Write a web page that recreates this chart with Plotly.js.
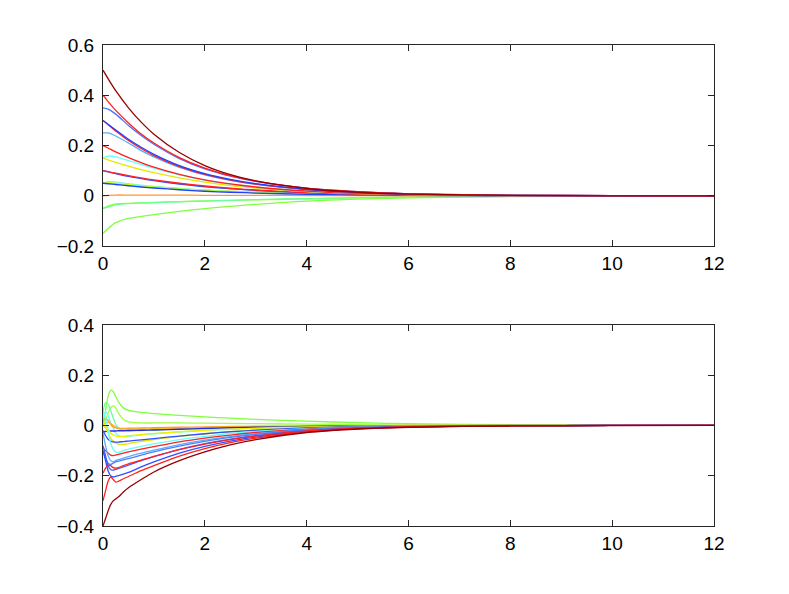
<!DOCTYPE html>
<html>
<head>
<meta charset="utf-8">
<script src="https://cdn.plot.ly/plotly-3.0.1.min.js"></script>
<style>html,body{margin:0;padding:0;background:#fff;}#chart{width:789px;height:594px;}</style>
</head>
<body>
<div id="chart"></div>
<script>
// ---- Top subplot data ----
var topX = [0, 0.1, 0.25, 0.5, 0.75, 1, 1.5, 2, 2.5, 3, 4, 5, 6, 8, 10, 12];
var topGreenLow   = [-0.15,-0.13,-0.107,-0.09,-0.082,-0.075,-0.062,-0.051,-0.042,-0.034,-0.021,-0.013,-0.008,-0.003,-0.001,0];
var topGreenMid   = [-0.05,-0.04,-0.032,-0.03,-0.028,-0.026,-0.023,-0.02,-0.018,-0.016,-0.012,-0.008,-0.005,-0.002,-0.001,0];
var topGreenCyan  = [-0.05,-0.045,-0.036,-0.031,-0.029,-0.027,-0.024,-0.021,-0.018,-0.015,-0.011,-0.007,-0.005,-0.002,-0.001,0];
var topOrange     = [0,0.002,0.003,0.003,0.003,0.003,0.003,0.002,0.002,0.002,0.001,0.001,0,0,0,0];
var topYellowLow  = [0.05,0.05,0.048,0.044,0.04,0.036,0.029,0.023,0.018,0.014,0.008,0.004,0.002,0.001,0,0];
var topCyanLow    = [0.05,0.056,0.055,0.048,0.042,0.037,0.029,0.022,0.017,0.013,0.007,0.004,0.002,0,0,0];
var topLimeLow    = [0.05,0.052,0.05,0.045,0.04,0.035,0.027,0.021,0.016,0.012,0.007,0.004,0.002,0,0,0];
var topBlueLow    = [0.05,0.048,0.045,0.04,0.035,0.031,0.024,0.018,0.014,0.011,0.006,0.003,0.002,0,0,0];
var topBlue010    = [0.1,0.095,0.088,0.077,0.068,0.06,0.047,0.036,0.028,0.021,0.012,0.007,0.003,0.001,0,0];
var topRed010     = [0.1,0.096,0.09,0.08,0.071,0.063,0.05,0.039,0.03,0.023,0.013,0.007,0.004,0.001,0,0];
var topYellow015  = [0.15,0.143,0.133,0.118,0.104,0.092,0.071,0.054,0.041,0.031,0.017,0.009,0.005,0.001,0,0];
var topCyan015    = [0.15,0.158,0.155,0.14,0.125,0.11,0.083,0.062,0.046,0.034,0.018,0.01,0.005,0.001,0,0];
var topRed020     = [0.2,0.19,0.175,0.152,0.132,0.114,0.085,0.063,0.047,0.035,0.019,0.01,0.005,0.001,0,0];
var topLtBlue025  = [0.25,0.25,0.238,0.21,0.18,0.155,0.113,0.083,0.061,0.045,0.024,0.013,0.006,0.002,0,0];
var topRed030     = [0.3,0.283,0.258,0.22,0.188,0.16,0.116,0.085,0.062,0.046,0.025,0.013,0.007,0.002,0.001,0];
var topBlue030    = [0.3,0.285,0.262,0.225,0.193,0.165,0.12,0.088,0.065,0.048,0.026,0.014,0.007,0.002,0.001,0];
var topBlue035    = [0.35,0.345,0.325,0.28,0.24,0.205,0.148,0.107,0.078,0.057,0.03,0.016,0.008,0.002,0.001,0];
var topRed040     = [0.4,0.375,0.34,0.29,0.246,0.21,0.152,0.11,0.08,0.058,0.03,0.016,0.008,0.002,0.001,0];
var topDarkRed050 = [0.5,0.466,0.418,0.35,0.293,0.245,0.172,0.12,0.084,0.059,0.029,0.014,0.007,0.002,0,0];

var topSeries = [topGreenLow, topGreenMid, topGreenCyan, topOrange, topYellowLow, topCyanLow, topLimeLow, topBlueLow,
  topBlue010, topRed010, topYellow015, topCyan015, topRed020, topLtBlue025, topRed030, topBlue030, topBlue035, topRed040, topDarkRed050];
var topColors = ['#80ff40','#99ff33','#66ff99','#ff9933','#e6e600','#66ffff','#c0ff20','#2040ff',
  '#3050ff','#ff2020','#e6e600','#66ffff','#ff2020','#5aaaff','#ff2020','#2040ff','#4a70ff','#ff2020','#960000'];

// ---- Bottom subplot data ----
var botX = [0, 0.05, 0.1, 0.15, 0.2, 0.25, 0.3, 0.4, 0.5, 0.75, 1, 1.5, 2, 2.5, 3, 4, 5, 6, 8, 10, 12];
var botGreenBig  = [0.0,0.06,0.115,0.14,0.135,0.115,0.095,0.07,0.06,0.052,0.047,0.04,0.034,0.029,0.024,0.017,0.011,0.007,0.003,0.001,0];
var botGreen2    = [0.0,0.02,0.05,0.07,0.078,0.07,0.05,0.025,0.014,0.01,0.01,0.01,0.009,0.008,0.007,0.005,0.003,0.002,0.001,0,0];
var botCyanGreen = [0.05,0.09,0.085,0.06,0.03,0.005,-0.01,-0.02,-0.022,-0.02,-0.018,-0.014,-0.011,-0.008,-0.006,-0.003,-0.002,-0.001,0,0,0];
var botLtCyan    = [0.02,0.055,0.04,0.01,-0.01,-0.03,-0.04,-0.045,-0.043,-0.038,-0.033,-0.026,-0.02,-0.015,-0.011,-0.006,-0.003,-0.002,0,0,0];
var botOrange    = [0.02,0.025,0.02,0.005,-0.005,-0.01,-0.012,-0.012,-0.011,-0.01,-0.009,-0.007,-0.006,-0.004,-0.003,-0.002,-0.001,0,0,0,0];
var botOrange2   = [0.0,0.01,0.012,0.008,0.0,-0.006,-0.01,-0.013,-0.014,-0.014,-0.013,-0.011,-0.009,-0.007,-0.005,-0.003,-0.001,-0.001,0,0,0];
var botDarkBlue  = [-0.025,-0.024,-0.023,-0.022,-0.022,-0.022,-0.021,-0.021,-0.02,-0.019,-0.018,-0.015,-0.012,-0.009,-0.007,-0.004,-0.002,-0.001,0,0,0];
var botYellow2   = [0.01,0,-0.015,-0.03,-0.038,-0.042,-0.044,-0.043,-0.041,-0.036,-0.032,-0.025,-0.019,-0.015,-0.011,-0.006,-0.003,-0.002,0,0,0];
var botYellow    = [0.0,-0.01,-0.03,-0.05,-0.062,-0.07,-0.074,-0.075,-0.072,-0.063,-0.056,-0.043,-0.033,-0.025,-0.019,-0.01,-0.005,-0.003,-0.001,0,0];
var botBlueMid   = [-0.02,-0.04,-0.055,-0.062,-0.065,-0.066,-0.066,-0.064,-0.062,-0.057,-0.052,-0.042,-0.033,-0.025,-0.019,-0.01,-0.005,-0.003,-0.001,0,0];
var botCyan      = [0.05,0.03,-0.02,-0.07,-0.095,-0.105,-0.108,-0.1,-0.094,-0.083,-0.073,-0.056,-0.043,-0.032,-0.024,-0.013,-0.007,-0.003,-0.001,0,0];
var botRed010    = [-0.09,-0.1,-0.11,-0.118,-0.12,-0.118,-0.115,-0.11,-0.105,-0.094,-0.084,-0.065,-0.05,-0.038,-0.028,-0.015,-0.008,-0.004,-0.001,0,0];
var botLtBlue    = [-0.03,-0.08,-0.12,-0.14,-0.145,-0.14,-0.136,-0.13,-0.124,-0.11,-0.098,-0.076,-0.058,-0.044,-0.033,-0.017,-0.009,-0.004,-0.001,0,0];
var botLtBlue2   = [-0.1,-0.13,-0.15,-0.155,-0.15,-0.145,-0.142,-0.137,-0.132,-0.118,-0.105,-0.082,-0.063,-0.047,-0.035,-0.018,-0.009,-0.005,-0.001,0,0];
var botBlue2     = [-0.08,-0.12,-0.16,-0.175,-0.178,-0.175,-0.172,-0.165,-0.158,-0.14,-0.124,-0.095,-0.072,-0.054,-0.04,-0.021,-0.011,-0.005,-0.001,0,0];
var botBlue      = [-0.1,-0.14,-0.18,-0.2,-0.205,-0.203,-0.2,-0.194,-0.187,-0.165,-0.145,-0.11,-0.083,-0.062,-0.046,-0.024,-0.012,-0.006,-0.001,0,0];
var botRed020    = [-0.19,-0.17,-0.158,-0.16,-0.168,-0.17,-0.168,-0.16,-0.153,-0.138,-0.123,-0.096,-0.074,-0.056,-0.042,-0.022,-0.011,-0.006,-0.001,0,0];
var botRed030    = [-0.3,-0.26,-0.222,-0.205,-0.215,-0.225,-0.222,-0.212,-0.203,-0.18,-0.16,-0.122,-0.092,-0.068,-0.05,-0.026,-0.013,-0.006,-0.002,0,0];
var botDarkRed   = [-0.4,-0.37,-0.34,-0.315,-0.3,-0.292,-0.285,-0.265,-0.248,-0.215,-0.185,-0.14,-0.105,-0.077,-0.056,-0.028,-0.014,-0.007,-0.002,-0.001,0];

var botSeries = [botGreenBig, botGreen2, botCyanGreen, botLtCyan, botOrange, botOrange2, botDarkBlue, botYellow2, botYellow,
  botBlueMid, botCyan, botRed010, botLtBlue, botLtBlue2, botBlue2, botBlue, botRed020, botRed030, botDarkRed];
var botColors = ['#80ff40','#a0ff40','#66ff99','#66ffff','#ff9933','#ffb020','#2030e0','#f0f000','#e6e600',
  '#3050ff','#66ffff','#ff2020','#5aaaff','#4a80ff','#4060ff','#3050ff','#ff2020','#ff2020','#960000'];

var traces = [];
topSeries.forEach(function (ys, i) {
  traces.push({x: topX, y: ys, xaxis: 'x', yaxis: 'y', type: 'scatter', mode: 'lines',
    line: {color: topColors[i], width: 1.3, shape: 'spline', smoothing: 0.8}, hoverinfo: 'skip'});
});
botSeries.forEach(function (ys, i) {
  traces.push({x: botX, y: ys, xaxis: 'x2', yaxis: 'y2', type: 'scatter', mode: 'lines',
    line: {color: botColors[i], width: 1.3, shape: 'spline', smoothing: 0.8}, hoverinfo: 'skip'});
});

var axFont = {family: 'Liberation Sans, Arial, sans-serif', size: 19, color: '#000'};
function xAxis(anchor) {
  return {anchor: anchor, domain: [0, 1], range: [0, 12], dtick: 2, tick0: 0,
    showline: true, linecolor: '#262626', linewidth: 1, mirror: 'ticks', ticks: 'inside', ticklen: 6,
    tickcolor: '#262626', showgrid: false, zeroline: false, tickfont: axFont};
}
function yAxis(anchor, dom, rng, dt) {
  return {anchor: anchor, domain: dom, range: rng, dtick: dt, tick0: 0,
    showline: true, linecolor: '#262626', linewidth: 1, mirror: 'ticks', ticks: 'inside', ticklen: 6,
    tickcolor: '#262626', showgrid: false, zeroline: false, tickfont: axFont, ticklabelstandoff: 4};
}

var layout = {
  width: 789, height: 594,
  margin: {l: 103, r: 75, t: 45, b: 68},
  paper_bgcolor: '#fff', plot_bgcolor: '#fff',
  showlegend: false,
  xaxis: xAxis('y'),
  yaxis: yAxis('x', [0.582, 1], [-0.2, 0.6], 0.2),
  xaxis2: xAxis('y2'),
  yaxis2: yAxis('x2', [0, 0.418], [-0.4, 0.4], 0.2)
};

Plotly.newPlot('chart', traces, layout, {staticPlot: true, displayModeBar: false});
</script>
</body>
</html>
